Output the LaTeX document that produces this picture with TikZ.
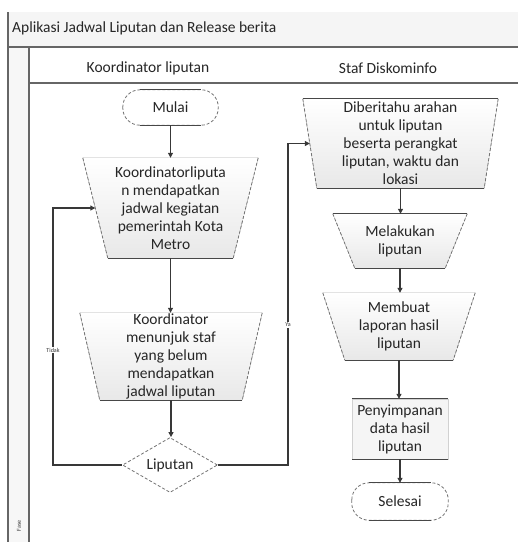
\documentclass[tikz,border=0pt]{standalone}
\usepackage{fontspec}
\setmainfont{Carlito}
\usetikzlibrary{arrows.meta,calc,shapes.geometric}
\pgfdeclarelayer{background}
\pgfsetlayers{background,main}

\tikzset{
  lbl/.style={font=\fontsize{15.5}{18}\selectfont, text=black!85, align=center, inner sep=0pt},
  small/.style={font=\fontsize{6}{7}\selectfont, text=black!80, fill=white, inner sep=1pt},
  frame/.style={draw=black!60, line width=1.6pt},
  edgeline/.style={draw=black!72, line width=1.2pt},
  sideline/.style={draw=black!55, densely dashed, line width=0.8pt},
  conn/.style={draw=black!78, line width=1.1pt, -{Triangle[length=5pt,width=5pt]}},
  sized/.style n args={2}{lbl, minimum width=#1, minimum height=#2},
}

% manual-operation shape drawn round a sized node: #1 name, #2 inset of the lower corners, #3 style of the top edge
\newcommand{\manop}[3]{%
  \begin{pgfonlayer}{background}
    \fill[top color=white, bottom color=black!9]
      (#1.north west) -- (#1.north east) -- ($(#1.south east)+(-#2,0)$) -- ($(#1.south west)+(#2,0)$) -- cycle;
  \end{pgfonlayer}
  \draw[sideline] (#1.north west) -- ($(#1.south west)+(#2,0)$);
  \draw[sideline] (#1.north east) -- ($(#1.south east)+(-#2,0)$);
  \draw[edgeline] ($(#1.south west)+(#2,0)$) -- ($(#1.south east)+(-#2,0)$);
  \draw[#3] (#1.north west) -- (#1.north east);
  \coordinate (#1-w) at ($(#1.north west)!.5!(#1.south west)+(0.5*#2,0)$);
}

% terminator: dashed rounded ends, solid straight sides
\newcommand{\termshape}[1]{%
  \begin{pgfonlayer}{background}
    \draw[sideline, fill=white, rounded corners=17pt] (#1.north west) rectangle (#1.south east);
  \end{pgfonlayer}
  \draw[edgeline] ($(#1.north west)+(17,0)$) -- ($(#1.north east)+(-17,0)$);
  \draw[edgeline] ($(#1.south west)+(17,0)$) -- ($(#1.south east)+(-17,0)$);
}

\begin{document}
\begin{tikzpicture}[x=1pt, y=-1pt]
\useasboundingbox (0,0) rectangle (518,542);

% pool frame with title band and lane headers
\fill[black!4] (8,12) rectangle (518,47);
\fill[black!3] (8,47) rectangle (29,542);
\draw[frame] (8,12) -- (8,542);
\draw[frame] (8,47) -- (518,47);
\draw[frame] (29,47) -- (29,542);
\draw[frame] (29,83) -- (518,83);

\node[lbl, anchor=west] (title) at (12,28) {Aplikasi Jadwal Liputan dan Release berita};
\node[lbl] (laneA) at (148,68) {Koordinator liputan};
\node[lbl] (laneB) at (388,68) {Staf Diskominfo};
\node[small, fill=none, rotate=90] (fase) at (19,526) {Fase};

% lane: Koordinator liputan
\node[sized={95pt}{35pt}] (mulai) at (170.5,107.5) {Mulai};
\termshape{mulai}

\node[sized={175pt}{100pt}] (t1) at (170.5,208)
  {Koordinatorliputa\\n mendapatkan\\jadwal kegiatan\\pemerintah Kota\\Metro};
\manop{t1}{25}{draw=none}

\node[sized={182pt}{87pt}] (t2) at (171,356.5)
  {Koordinator\\menunjuk staf\\yang belum\\mendapatkan\\jadwal liputan};
\manop{t2}{20}{draw=none}

\node[lbl, diamond, minimum width=95pt, minimum height=55pt, aspect=1.7,
      sideline, fill=white] (ifl) at (170,465) {Liputan};

% lane: Staf Diskominfo
\node[sized={195pt}{89pt}] (d1) at (400.5,143.5)
  {Diberitahu arahan\\untuk liputan\\beserta perangkat\\liputan, waktu dan\\lokasi};
\manop{d1}{14}{edgeline}

\node[sized={134pt}{54pt}] (d2) at (400,241) {Melakukan\\liputan};
\manop{d2}{22}{edgeline}

\node[sized={152pt}{67pt}] (d3) at (399,326.5) {Membuat\\laporan hasil\\liputan};
\manop{d3}{22}{draw=none}

\node[sized={96pt}{60pt}, fill=black!4, draw=black!18] (d4) at (400,429)
  {Penyimpanan\\data hasil\\liputan};
\draw[edgeline] (d4.north west) -- (d4.north east);
\draw[edgeline] (d4.south west) -- (d4.south east);

\node[sized={96pt}{37pt}] (selesai) at (400,501.5) {Selesai};
\termshape{selesai}

% flow
\draw[conn] (mulai.south) -- (mulai.south |- t1.north);
\draw[conn] (t1.south) -- (t1.south |- t2.north);
\draw[conn] (t2.south) -- (t2.south |- ifl.north);

\draw[conn] (d1.south) -- (d1.south |- d2.north);
\draw[conn] (d2.south) -- (d2.south |- d3.north);
\draw[conn] (d3.south) -- (d3.south |- d4.north);
\draw[conn] (d4.south) -- (d4.south |- selesai.north);

% decision branches
\coordinate (noturn) at (53,300);
\coordinate (yaturn) at (288,300);
\draw[conn] (ifl.west) -| (noturn) |- (t1-w);
\draw[conn] (ifl.east) -| (yaturn) |- (d1-w);
\node[small] (tidak) at (53,350) {Tidak};
\node[small] (ya) at (288,325) {Ya};

\end{tikzpicture}
\end{document}
